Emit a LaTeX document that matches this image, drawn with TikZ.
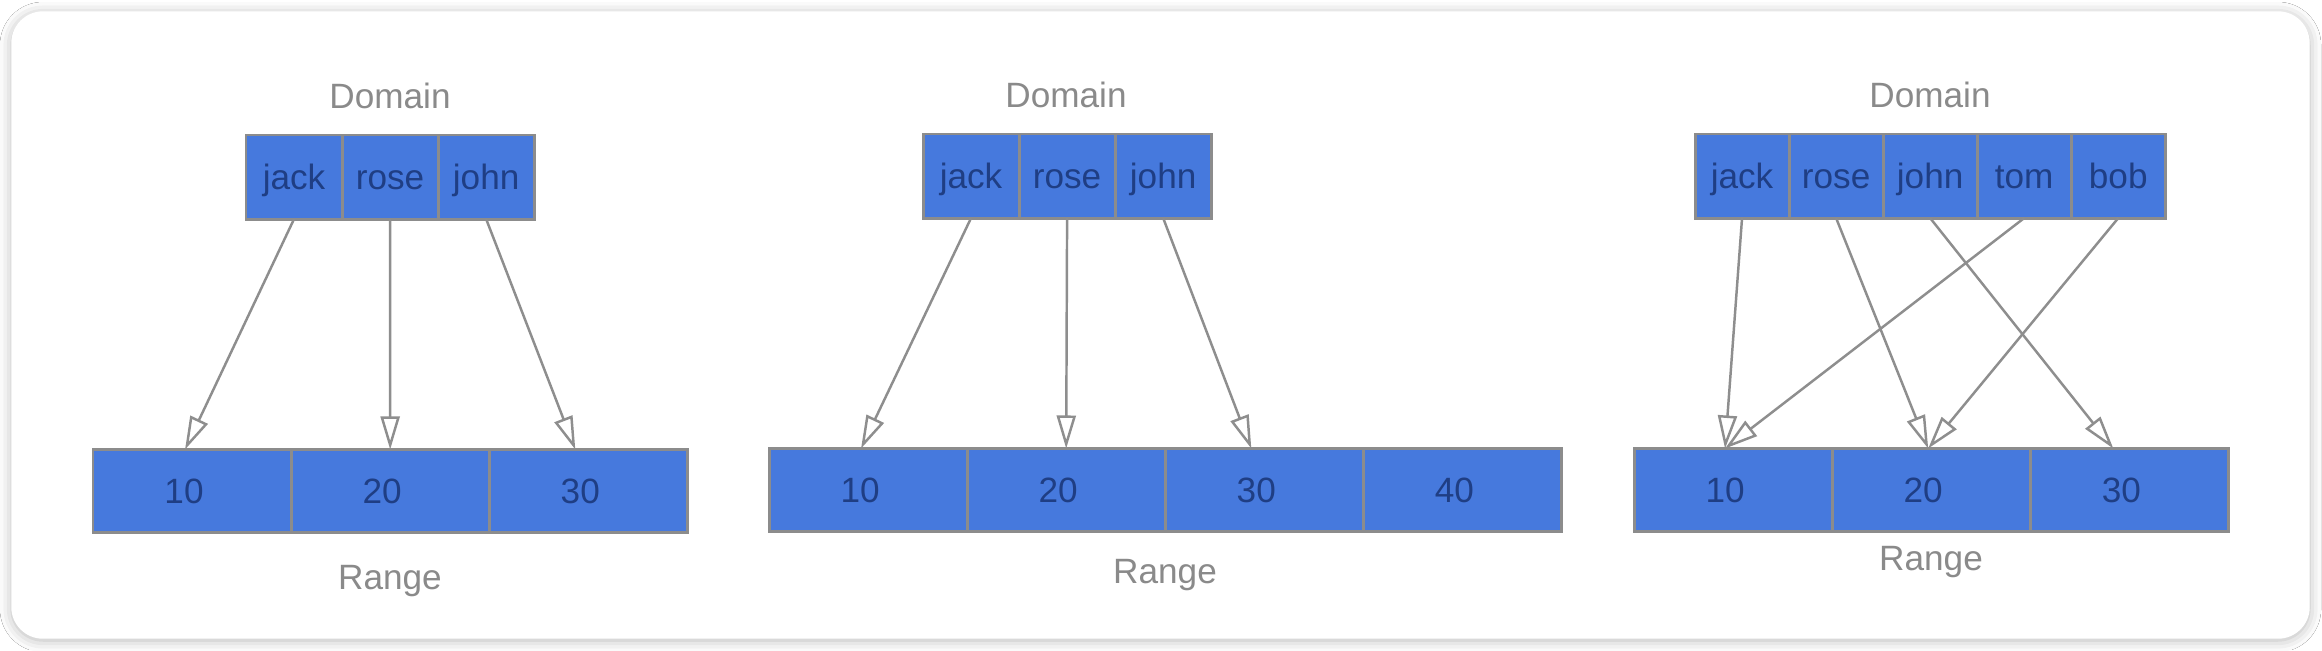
\documentclass[tikz,border=0pt]{standalone}
\usepackage{fontspec}
\setmainfont{Liberation Sans}
\usetikzlibrary{positioning,arrows.meta,shadows.blur}

\definecolor{cellblue}{HTML}{4679DD}
\definecolor{celltext}{HTML}{1F3E84}
\definecolor{cellline}{HTML}{8C8C8C}
\definecolor{labelgrey}{HTML}{8A8A8A}
\definecolor{arrowgrey}{HTML}{8E8E8E}

\tikzset{
  cell/.style={draw=cellline, fill=cellblue, text=celltext, line width=0.85pt,
    inner sep=0pt, outer sep=0pt, anchor=west},
  dom/.style={cell, minimum width=0.96cm, minimum height=0.84cm, text height=0.9em, text depth=0.2em},
  rng/.style={cell, minimum width=1.98cm, minimum height=0.83cm, text height=0.72em, text depth=0pt,
    execute at begin node={\hspace*{-0.16cm}}},
  lbl/.style={text=labelgrey},
  map/.style={draw=arrowgrey, line width=0.7pt, -{Triangle[open,length=0.33cm,width=0.19cm]}}
}

\begin{document}
\begin{tikzpicture}[x=0.01cm, y=-0.01cm, font=\fontsize{10}{12}\selectfont]
\useasboundingbox (0,0) rectangle (2322,650);
\fill[white] (0,0) rectangle (2322,650);

% frame
\filldraw[white, rounded corners=0.31cm,
  blur shadow={shadow xshift=0pt, shadow yshift=-0.02cm, shadow blur radius=0.12cm, shadow opacity=30}]
  (12,12) rectangle (2309,638);

% first: three to three
\node[lbl] (d1) at (390,96) {Domain};
\node[dom] (a1) at (246,177) {jack};
\node[dom, right=0pt of a1] (a2) {rose};
\node[dom, right=0pt of a2] (a3) {john};

\node[rng] (b1) at (93,491) {10};
\node[rng, right=0pt of b1] (b2) {20};
\node[rng, right=0pt of b2] (b3) {30};
\node[lbl] (r1) at (390,581) {Range};

\draw[map] (a1.south) -- ([xshift=-0.07cm]b1.north);
\draw[map] (a2.south) -- (b2.north);
\draw[map] (a3.south) -- ([xshift=-0.13cm]b3.north);

% second: three to four
\node[lbl] (d2) at (1066,95) {Domain};
\node[dom] (c1) at (923,176) {jack};
\node[dom, right=0pt of c1] (c2) {rose};
\node[dom, right=0pt of c2] (c3) {john};

\node[rng] (e1) at (769,490) {10};
\node[rng, right=0pt of e1] (e2) {20};
\node[rng, right=0pt of e2] (e3) {30};
\node[rng, right=0pt of e3] (e4) {40};
\node[lbl] (r2) at (1165,575) {Range};

\draw[map] (c1.south) -- ([xshift=-0.07cm]e1.north);
\draw[map] (c2.south) -- (e2.north);
\draw[map] (c3.south) -- ([xshift=-0.13cm]e3.north);

% third: five to three
\node[lbl] (d3) at (1930,95) {Domain};
\node[dom, minimum width=0.94cm] (f1) at (1695,176) {jack};
\node[dom, minimum width=0.94cm, right=0pt of f1] (f2) {rose};
\node[dom, minimum width=0.94cm, right=0pt of f2] (f3) {john};
\node[dom, minimum width=0.94cm, right=0pt of f3] (f4) {tom};
\node[dom, minimum width=0.94cm, right=0pt of f4] (f5) {bob};

\node[rng] (g1) at (1634,490) {10};
\node[rng, right=0pt of g1] (g2) {20};
\node[rng, right=0pt of g2] (g3) {30};
\node[lbl] (r3) at (1931,562) {Range};

\draw[map] (f1.south) -- ([xshift=-0.08cm]g1.north);
\draw[map] (f2.south) -- ([xshift=-0.03cm]g2.north);
\draw[map] (f3.south) -- ([xshift=-0.16cm]g3.north);
\draw[map] (f4.south) -- ([xshift=-0.08cm]g1.north);
\draw[map] (f5.south) -- ([xshift=-0.03cm]g2.north);

\end{tikzpicture}
\end{document}
